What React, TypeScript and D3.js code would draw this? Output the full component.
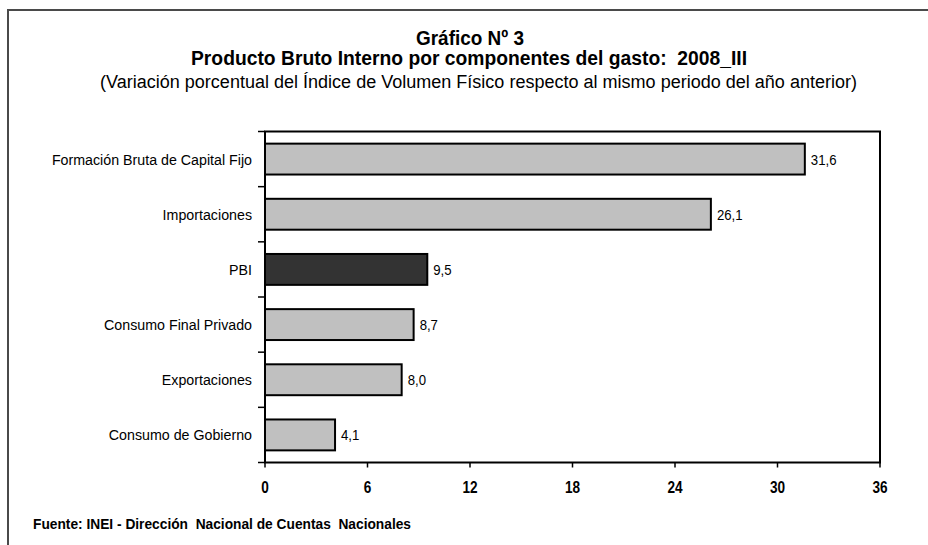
import React from "react";
import * as d3 from "d3";

const categories = [
    "Formación Bruta de Capital Fijo",
    "Importaciones",
    "PBI",
    "Consumo Final Privado",
    "Exportaciones",
    "Consumo de Gobierno",
];
const values = [31.6, 26.1, 9.5, 8.7, 8.0, 4.1];
const highlight = "PBI";
const xTicks = [0, 6, 12, 18, 24, 30, 36];

const title1 = "Gráfico Nº 3";
const title2 = "Producto Bruto Interno por componentes del gasto:  2008_III";
const subtitle = "(Variación porcentual del Índice de Volumen Físico respecto al mismo periodo del año anterior)";
const source = "Fuente: INEI - Dirección  Nacional de Cuentas  Nacionales";

const W = 928;
const H = 545;
const plot = { left: 265, right: 880, top: 131.5, bottom: 462.5 };
const font = "'Liberation Sans', Arial, sans-serif";

// keep double spaces from the source text
const keepSpaces = (s: string) => s.replace(/  /g, " \u00a0");

// narrow-looking text: draw at (x,y) and squeeze horizontally
const Narrow = ({ x, y, sx, children, ...rest }: any) => (
    <text transform={`translate(${x},${y}) scale(${sx},1)`} {...rest}>
        {children}
    </text>
);

export default function App() {
    const x = d3.scaleLinear().domain([0, 36]).range([plot.left, plot.right]);
    const y = d3.scaleBand<string>().domain(categories).range([plot.top, plot.bottom]).paddingInner(0.44).paddingOuter(0.22);
    const step = y.step();
    const fmt = (v: number) => v.toFixed(1).replace(".", ",");

    return (
        <svg width={W} height={H} style={{ position: "absolute", left: 0, top: 0, background: "#fff" }} fontFamily={font}>
            {/* outer frame, cut by the page edge */}
            <path d={`M8,${H + 5}V10H${W + 5}`} fill="none" stroke="#4a4a4a" strokeWidth={2} />

            <g textAnchor="middle" fill="#000">
                <text x={470} y={45} fontSize={20} fontWeight="bold" textLength={108} lengthAdjust="spacingAndGlyphs">{title1}</text>
                <text x={469} y={65} fontSize={20} fontWeight="bold" textLength={556} lengthAdjust="spacingAndGlyphs">{keepSpaces(title2)}</text>
                <text x={478.5} y={88} fontSize={18} textLength={757} lengthAdjust="spacingAndGlyphs">{subtitle}</text>
            </g>

            {/* bars */}
            {categories.map((c, i) => (
                <g key={c}>
                    <rect
                        x={x(0)}
                        y={y(c)!}
                        width={x(values[i]) - x(0)}
                        height={y.bandwidth()}
                        fill={c === highlight ? "#333333" : "#c0c0c0"}
                        stroke="#000"
                        strokeWidth={2}
                    />
                    <Narrow x={x(values[i]) + 6} y={y(c)! + y.bandwidth() / 2 + 5.5} sx={0.88} fontSize={15}>
                        {fmt(values[i])}
                    </Narrow>
                    <Narrow x={252} y={y(c)! + y.bandwidth() / 2 + 5.5} sx={0.95} fontSize={15} textAnchor="end">
                        {c}
                    </Narrow>
                </g>
            ))}

            {/* plot box */}
            <rect x={plot.left} y={plot.top} width={plot.right - plot.left} height={plot.bottom - plot.top} fill="none" stroke="#000" strokeWidth={2} />

            {/* category ticks on the left axis */}
            {d3.range(categories.length + 1).map((i) => (
                <line key={i} x1={plot.left - 7} x2={plot.left} y1={plot.top + i * step} y2={plot.top + i * step} stroke="#000" strokeWidth={1.5} />
            ))}

            {/* value axis */}
            {xTicks.map((t) => (
                <g key={t}>
                    <line x1={x(t)} x2={x(t)} y1={plot.bottom} y2={plot.bottom + 5} stroke="#000" strokeWidth={1.5} />
                    <Narrow x={x(t)} y={493} sx={0.85} fontSize={16} fontWeight="bold" textAnchor="middle">
                        {t}
                    </Narrow>
                </g>
            ))}

            <text x={33} y={529} fontSize={15.5} fontWeight="bold" textLength={378} lengthAdjust="spacingAndGlyphs">
                {keepSpaces(source)}
            </text>
        </svg>
    );
}
